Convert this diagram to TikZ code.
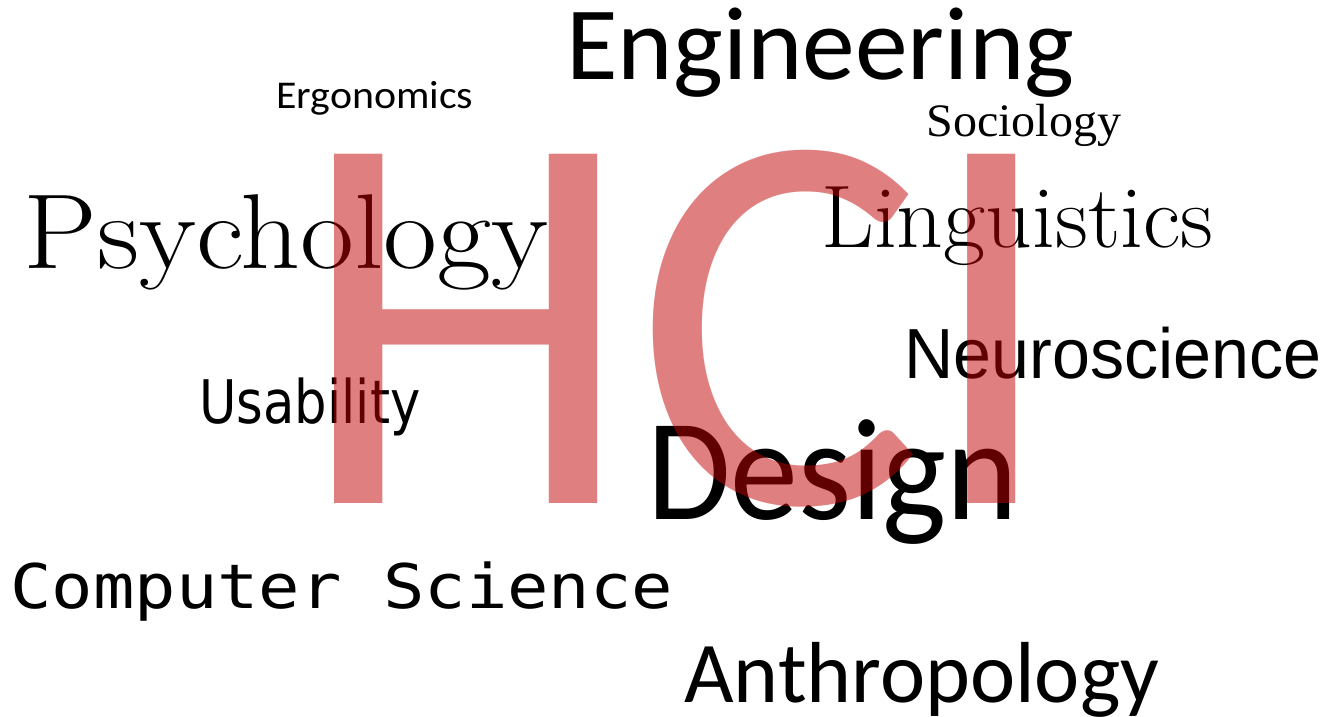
\documentclass[tikz,border=0pt]{standalone}
\usepackage{fontspec}
\usepackage{graphicx}
\newfontfamily\calibrifont{Carlito}
\newfontfamily\timesfont{Liberation Serif}
\newfontfamily\arialfont{Liberation Sans}
\newfontfamily\dejavufont{DejaVu Sans}
\newfontfamily\consolasfont{DejaVu Sans Mono}
\definecolor{hcired}{RGB}{192,0,0}

\begin{document}
\begin{tikzpicture}[x=0.02cm, y=-0.02cm, cloudword/.style={inner sep=0pt, anchor=base west}]
		\useasboundingbox (0,0) rectangle (1326,717);
		% the disciplines
		\node[cloudword] (eng) at (566,79) {\resizebox{10.16cm}{\height}{\calibrifont\fontsize{59.2}{60}\selectfont Engineering}};
		\node[cloudword] (ergo) at (276,108) {\resizebox{3.94cm}{\height}{\calibrifont\fontsize{22.4}{24}\selectfont Ergonomics}};
		\node[cloudword] (socio) at (926,136) {\resizebox{3.9cm}{\height}{\timesfont\fontsize{26.5}{28}\selectfont Sociology}};
		\node[cloudword] (psych) at (23,268) {\resizebox{10.5cm}{\height}{\fontsize{60.6}{62}\selectfont Psychology}};
		\node[cloudword] (ling) at (821,247) {\resizebox{7.84cm}{\height}{\fontsize{50.6}{52}\selectfont Linguistics}};
		\node[cloudword] (neuro) at (904,378) {\resizebox{8.34cm}{\height}{\arialfont\fontsize{40.4}{42}\selectfont Neuroscience}};
		\node[cloudword] (usab) at (199,423) {\resizebox{4.42cm}{\height}{\dejavufont\fontsize{34.2}{36}\selectfont Usability}};
		\node[cloudword] (design) at (647,519) {\resizebox{7.42cm}{\height}{\calibrifont\fontsize{82.6}{84}\selectfont Design}};
		\node[cloudword] (cs) at (10,608) {\resizebox{13.26cm}{\height}{\consolasfont\fontsize{35}{36}\selectfont Computer Science}};
		\node[cloudword] (anthro) at (684,702) {\resizebox{9.5cm}{\height}{\calibrifont\fontsize{49.3}{50}\selectfont Anthropology}};
		% the big letters on top
		\node[cloudword, text = hcired, text opacity = 0.5] (hci) at (297.6,503) {\scalebox{0.984}[0.99]{\calibrifont\fontsize{313}{313}\selectfont HCI}};
	\end{tikzpicture}
\end{document}
